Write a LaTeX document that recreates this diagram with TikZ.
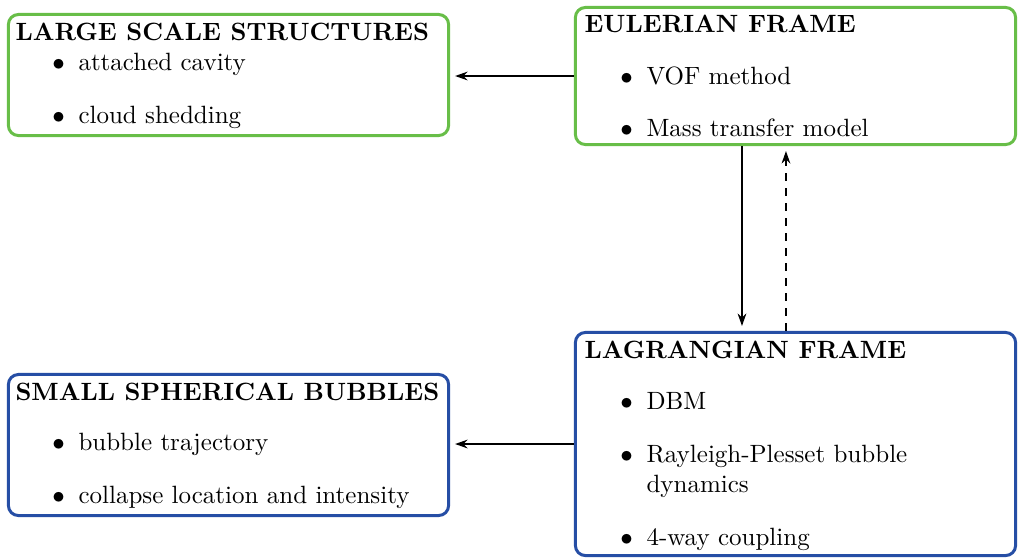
\documentclass[tikz,border=0pt]{standalone}
\usepackage{amsmath}
\usepackage{xcolor}
\usepackage{tikz}
\usetikzlibrary{arrows.meta,positioning}

\definecolor{verde}{RGB}{104,190,72}
\definecolor{azul}{RGB}{38,78,165}

\begin{document}
\begin{tikzpicture}[
x=0.01406cm, y=-0.01406cm,
 caja/.style = {draw, line width=1.2pt, rounded corners=4pt, inner sep=0pt},
 titulo/.style = {anchor=base west, inner sep=0pt, font=\bfseries},
 punto/.style = {anchor=base west, inner sep=0pt, text height=7pt, text depth=2pt,
      label={[inner sep=0pt, text height=7pt, text depth=2pt, label distance=5pt]left:$\bullet$}},
 linea/.style = {anchor=base west, inner sep=0pt},
 flecha/.style = {-{Stealth[length=5pt,width=3.5pt]}, line width=0.6pt, shorten >=2pt}
]
\useasboundingbox (0,0) rectangle (1023,559);

  % Cajas
  \node[caja, draw=verde, minimum width=6.186cm, minimum height=1.701cm] (LS) at (228.5,75) {};
  \node[caja, draw=verde, minimum width=6.186cm, minimum height=1.926cm] (EF) at (795.5,76) {};
  \node[caja, draw=azul, minimum width=6.186cm, minimum height=3.135cm] (LF) at (795.5,444) {};
  \node[caja, draw=azul, minimum width=6.186cm, minimum height=1.982cm] (SB) at (228.5,445) {};

  % Textos
  \node[titulo] (LSt) at (15,40) {LARGE SCALE STRUCTURES};
  \node[punto] (LS1) at (78,70) {attached cavity};
  \node[punto] (LS2) at (78,123) {cloud shedding};

  \node[titulo] (EFt) at (584,32) {EULERIAN FRAME};
  \node[punto] (EF1) at (646,84) {VOF method};
  \node[punto] (EF2) at (646,136) {Mass transfer model};

  \node[titulo] (LFt) at (584,358) {LAGRANGIAN FRAME};
  \node[punto] (LF1) at (646,409) {DBM};
  \node[punto] (LF2) at (646,462) {Rayleigh-Plesset bubble};
  \node[linea] (LF2b) at (646,492) {dynamics};
  \node[punto] (LF3) at (646,545) {4-way coupling};

  \node[titulo] (SBt) at (15,400) {SMALL SPHERICAL BUBBLES};
  \node[punto] (SB1) at (78,450) {bubble trajectory};
  \node[punto] (SB2) at (78,503) {collapse location and intensity};

  % Flechas
  \draw[flecha] (EF.west) -- (EF.west -| LS.east);
  \draw[flecha] (LF.west) -- (LF.west -| SB.east);
  \draw[flecha] ([xshift=-0.752cm]EF.south) -- ([xshift=-0.752cm]LF.north);
  \draw[flecha, dashed] ([xshift=-0.134cm]LF.north) -- ([xshift=-0.134cm]EF.south);

\end{tikzpicture}
\end{document}
